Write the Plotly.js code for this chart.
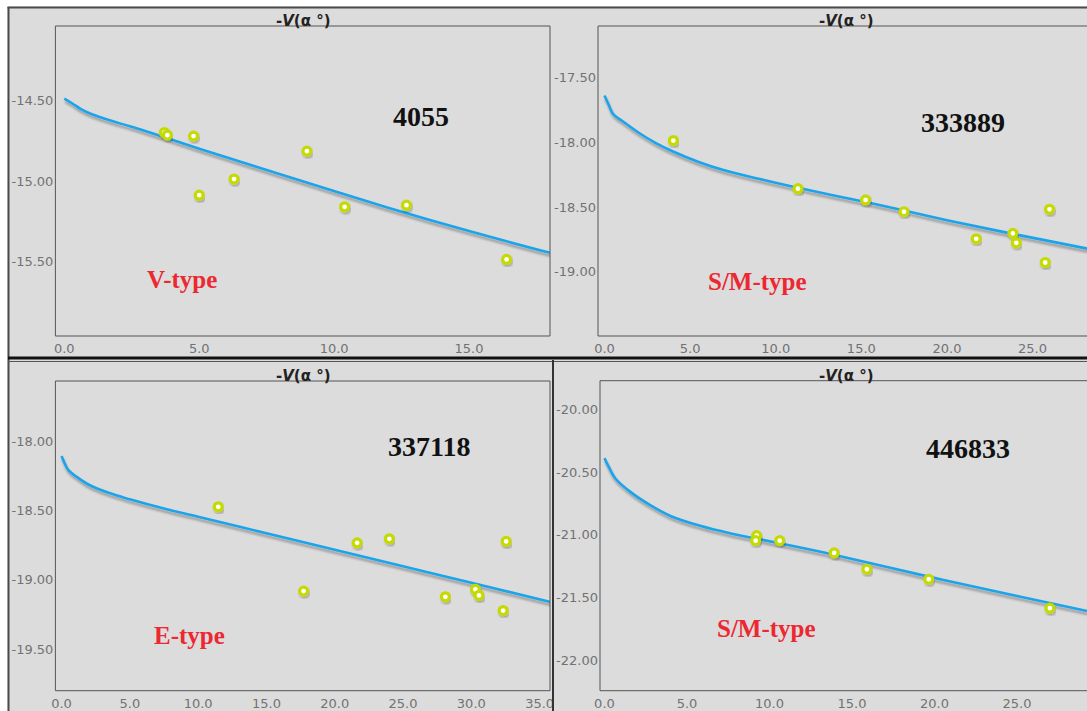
<!DOCTYPE html>
<html>
<head>
<meta charset="utf-8">
<script src="https://cdn.plot.ly/plotly-3.0.1.min.js"></script>
<style>html,body{margin:0;padding:0;background:#dcdcdc;}#chart{width:1087px;height:711px;}</style>
</head>
<body>
<div id="chart"></div>
<script>
// ---------- data ----------
// Panel 1 : 4055 (V-type)
const p1_obs_x = [3.71, 3.82, 4.79, 5.0, 6.29, 8.99, 10.39, 12.68, 16.39];
const p1_obs_y = [-14.70, -14.716, -14.722, -15.088, -14.988, -14.815, -15.16, -15.15, -15.486];
const p1_fit_x = [0, 0.3, 0.6, 1, 2, 3, 5, 8, 12, 15, 18];
const p1_fit_y = [-14.49, -14.52, -14.553, -14.585, -14.64, -14.69, -14.80, -14.958, -15.165, -15.31, -15.445];

// Panel 2 : 333889 (S/M-type)
const p2_obs_x = [4.02, 11.30, 15.25, 17.49, 21.71, 23.85, 24.05, 25.74, 25.99];
const p2_obs_y = [-17.985, -18.357, -18.444, -18.535, -18.744, -18.702, -18.775, -18.927, -18.516];
const p2_fit_x = [0, 0.25, 0.5, 1, 2, 3, 4, 5.5, 7, 9, 11.3, 15.25, 17.5, 20, 24, 28.2];
const p2_fit_y = [-17.637, -17.71, -17.78, -17.83, -17.925, -18.005, -18.07, -18.15, -18.215, -18.28, -18.35, -18.46, -18.526, -18.60, -18.71, -18.82];

// Panel 3 : 337118 (E-type)
const p3_obs_x = [11.47, 17.72, 21.64, 24.0, 28.10, 30.30, 30.56, 32.33, 32.55];
const p3_obs_y = [-18.474, -19.082, -18.734, -18.705, -19.123, -19.07, -19.113, -19.222, -18.724];
const p3_fit_x = [0, 0.25, 0.5, 1, 2, 3.5, 5, 7.5, 10, 15, 20, 25, 30, 35.8];
const p3_fit_y = [-18.108, -18.165, -18.21, -18.25, -18.315, -18.375, -18.42, -18.487, -18.546, -18.665, -18.784, -18.903, -19.022, -19.16];

// Panel 4 : 446833 (S/M-type)
const p4_obs_x = [9.22, 9.16, 10.62, 13.92, 15.90, 19.65, 26.99];
const p4_obs_y = [-21.008, -21.048, -21.048, -21.146, -21.276, -21.356, -21.587];
const p4_fit_x = [0, 0.3, 0.65, 1.55, 2.75, 4, 5.8, 7.6, 9.1, 10.6, 13.9, 19.65, 25, 29.24];
const p4_fit_y = [-20.39, -20.47, -20.55, -20.657, -20.763, -20.851, -20.93, -20.989, -21.029, -21.069, -21.16, -21.335, -21.49, -21.61];

// labels
const asteroid_ids = ['4055', '333889', '337118', '446833'];
const taxon_types = ['V-type', 'S/M-type', 'E-type', 'S/M-type'];
const panel_title = '-<i>V</i>(α °)';
const x_tickvals = [0, 5, 10, 15, 20, 25, 30, 35];
const y_tickvals = [
  [-14.5, -15.0, -15.5],
  [-17.5, -18.0, -18.5, -19.0],
  [-18.0, -18.5, -19.0, -19.5],
  [-20.0, -20.5, -21.0, -21.5, -22.0]
];

// ---------- layout helpers (pixels -> paper) ----------
const W = 1087, H = 711;
const PX = x => x / W;
const PY = y => 1 - y / H;

// plot-area boxes in pixels [left, right, top, bottom]
const boxes = [
  [55.4, 550, 26, 336],
  [598, 1094, 26, 336],
  [55.4, 550, 381, 690.7],
  [600, 1094, 380.7, 690.7]
];
const xranges = [[-0.33, 18.0], [-0.38, 28.18], [-0.45, 35.76], [-0.27, 29.24]];
const yranges = [[-15.96, -14.04], [-19.495, -17.10], [-19.80, -17.567], [-22.245, -19.772]];

const obs = [[p1_obs_x, p1_obs_y], [p2_obs_x, p2_obs_y], [p3_obs_x, p3_obs_y], [p4_obs_x, p4_obs_y]];
const fits = [[p1_fit_x, p1_fit_y], [p2_fit_x, p2_fit_y], [p3_fit_x, p3_fit_y], [p4_fit_x, p4_fit_y]];

const traces = [];
const layout = {
  width: W, height: H, autosize: false,
  margin: {l: 0, r: 0, t: 0, b: 0, pad: 0},
  paper_bgcolor: '#dcdcdc', plot_bgcolor: '#dcdcdc',
  showlegend: false,
  shapes: [], annotations: []
};

const tickfont = {family: 'DejaVu Sans, Verdana, sans-serif', size: 13, color: '#727272'};

for (let i = 0; i < 4; i++) {
  const n = i === 0 ? '' : String(i + 1);
  const xa = 'x' + n, ya = 'y' + n;
  const b = boxes[i];
  const xd = [PX(b[0]), Math.min(1, PX(b[1]))];
  const yd = [PY(b[3]), PY(b[2])];
  layout['xaxis' + n] = {
    domain: xd, range: xranges[i], anchor: ya,
    showgrid: false, zeroline: false, showline: false, ticks: '',
    tickmode: 'array', tickvals: x_tickvals, ticktext: x_tickvals.map(v => v.toFixed(1)),
    tickfont: tickfont, ticklabelstandoff: 3, fixedrange: true
  };
  layout['yaxis' + n] = {
    domain: yd, range: yranges[i], anchor: xa,
    showgrid: false, zeroline: false, showline: false, ticks: '',
    tickmode: 'array', tickvals: y_tickvals[i], ticktext: y_tickvals[i].map(v => v.toFixed(2)),
    tickfont: tickfont, ticklabelstandoff: 1, fixedrange: true
  };
  traces.push({
    type: 'scatter', mode: 'lines', x: fits[i][0], y: fits[i][1], xaxis: xa, yaxis: ya,
    line: {color: '#1ca4ea', width: 2.6, shape: 'spline', smoothing: 1},
    hoverinfo: 'skip'
  });
  traces.push({
    type: 'scatter', mode: 'markers', x: obs[i][0], y: obs[i][1], xaxis: xa, yaxis: ya,
    marker: {symbol: 'circle', size: 8, color: '#ffffff', line: {color: '#c4da00', width: 3.2}},
    hoverinfo: 'skip', cliponaxis: false
  });
  // plot-area frame
  layout.shapes.push({type: 'rect', xref: 'paper', yref: 'paper', x0: PX(b[0]), x1: PX(b[1]), y0: PY(b[3]), y1: PY(b[2]),
    line: {color: '#555555', width: 1}, fillcolor: 'rgba(0,0,0,0)', layer: 'above'});
  // panel title
  const cx = i % 2 === 0 ? 303 : 846;
  layout.annotations.push({xref: 'paper', yref: 'paper', x: PX(cx), y: PY(b[2] - 5), xanchor: 'center', yanchor: 'middle',
    text: panel_title, showarrow: false, font: {family: 'DejaVu Sans, sans-serif', size: 15, color: '#222222', weight: 'bold'}});
}

// asteroid ids and types (pixel centres)
const idPos = [[420.5, 117], [963, 122], [428.8, 446], [968, 448]];
const typePos = [[182, 279], [757.8, 281], [189.5, 635.5], [766.8, 628]];
for (let i = 0; i < 4; i++) {
  layout.annotations.push({xref: 'paper', yref: 'paper', x: PX(idPos[i][0]), y: PY(idPos[i][1]), xanchor: 'center', yanchor: 'middle',
    text: '<b>' + asteroid_ids[i] + '</b>', showarrow: false,
    font: {family: 'Liberation Serif, serif', size: 28, color: '#111111'}});
  layout.annotations.push({xref: 'paper', yref: 'paper', x: PX(typePos[i][0]), y: PY(typePos[i][1]), xanchor: 'center', yanchor: 'middle',
    text: '<b>' + taxon_types[i] + '</b>', showarrow: false,
    font: {family: 'Liberation Serif, serif', size: 25, color: '#ec2830'}});
}

// window frame / separators
const S = layout.shapes;
S.push({type: 'rect', xref: 'paper', yref: 'paper', x0: 0, x1: 1, y0: PY(6.5), y1: 1, fillcolor: '#ffffff', line: {width: 0}, layer: 'above'});
S.push({type: 'rect', xref: 'paper', yref: 'paper', x0: 0, x1: PX(7.5), y0: 0, y1: 1, fillcolor: '#ffffff', line: {width: 0}, layer: 'above'});
S.push({type: 'line', xref: 'paper', yref: 'paper', x0: PX(7.5), x1: 1, y0: PY(7.5), y1: PY(7.5), line: {color: '#4a4a4a', width: 2}, layer: 'above'});
S.push({type: 'line', xref: 'paper', yref: 'paper', x0: PX(8.5), x1: PX(8.5), y0: 0, y1: PY(7), line: {color: '#4a4a4a', width: 2}, layer: 'above'});
S.push({type: 'rect', xref: 'paper', yref: 'paper', x0: PX(553), x1: PX(559), y0: 0, y1: PY(692), fillcolor: '#dcdcdc', line: {width: 0}, layer: 'above'});
S.push({type: 'line', xref: 'paper', yref: 'paper', x0: PX(8), x1: 1, y0: PY(358), y1: PY(358), line: {color: '#111111', width: 3}, layer: 'above'});
S.push({type: 'line', xref: 'paper', yref: 'paper', x0: PX(8), x1: 1, y0: PY(361.5), y1: PY(361.5), line: {color: '#555555', width: 1}, layer: 'above'});
S.push({type: 'line', xref: 'paper', yref: 'paper', x0: PX(553), x1: PX(553), y0: 0, y1: PY(360), line: {color: '#333333', width: 2}, layer: 'above'});

Plotly.newPlot('chart', traces, layout, {staticPlot: true, displayModeBar: false}).then(gd => {
  const svg = gd.querySelector('svg.main-svg');
  const ns = 'http://www.w3.org/2000/svg';
  let defs = svg.querySelector('defs');
  if (!defs) { defs = document.createElementNS(ns, 'defs'); svg.insertBefore(defs, svg.firstChild); }
  const mk = (id, dx, dy, sd, op) => {
    const f = document.createElementNS(ns, 'filter');
    f.setAttribute('id', id);
    f.setAttribute('x', '-20%'); f.setAttribute('y', '-20%');
    f.setAttribute('width', '140%'); f.setAttribute('height', '160%');
    const d = document.createElementNS(ns, 'feDropShadow');
    d.setAttribute('dx', dx); d.setAttribute('dy', dy); d.setAttribute('stdDeviation', sd);
    d.setAttribute('flood-color', '#000'); d.setAttribute('flood-opacity', op);
    f.appendChild(d); defs.appendChild(f);
  };
  mk('lineShadow', 1, 3, 1.3, 0.3);
  mk('ptShadow', 1, 2, 1, 0.25);
  gd.querySelectorAll('path.js-line').forEach(p => p.setAttribute('filter', 'url(#lineShadow)'));
  gd.querySelectorAll('path.point').forEach(p => p.setAttribute('filter', 'url(#ptShadow)'));
});
</script>
</body>
</html>
